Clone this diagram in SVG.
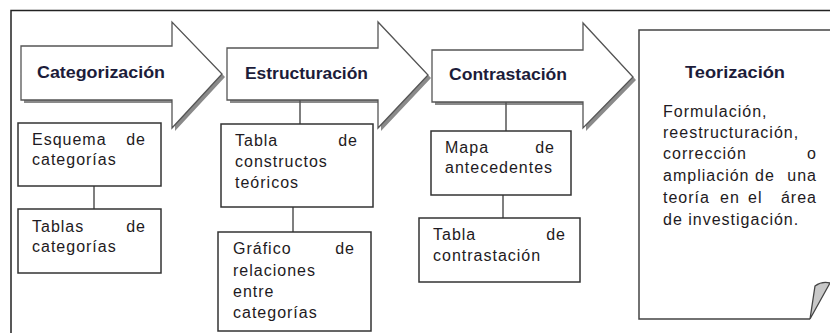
<svg xmlns="http://www.w3.org/2000/svg" width="830" height="333" viewBox="0 0 830 333">
<style>
.frame{fill:none;stroke:#222;stroke-width:1.5}
.arrow{fill:#fff;stroke:#555;stroke-width:1.3}
.shadow{fill:#8a8a8a}
.box{fill:#fff;stroke:#333;stroke-width:1.5}
.conn{stroke:#555;stroke-width:1.5;fill:none}
.lbl{font-family:"Liberation Sans",Arial,sans-serif;font-weight:bold;font-size:16px;fill:#1c1c3a}
.t{font-family:"Liberation Sans",Arial,sans-serif;font-size:16px;fill:#1e1a22;letter-spacing:1px}
.e{text-anchor:end}
</style>
<rect x="0" y="0" width="830" height="333" fill="#fff"/>
<path class="frame" d="M11,333 V10.5 H830"/>

<g id="categorizacion">
<polygon class="shadow" points="24,49 175,49 175,25 225,77 175,131 175,103 24,103"/>
<polygon class="arrow" points="21,46 172,46 172,22 222,74 172,128 172,100 21,100"/>
<text class="lbl" x="37" y="78" textLength="128" lengthAdjust="spacingAndGlyphs">Categorización</text>
</g>

<g id="estructuracion">
<polygon class="shadow" points="230,51 381,51 381,25 431,78 381,131 381,103 230,103"/>
<polygon class="arrow" points="227,48 378,48 378,22 428,75 378,128 378,100 227,100"/>
<text class="lbl" x="245" y="79" textLength="123" lengthAdjust="spacingAndGlyphs">Estructuración</text>
</g>

<g id="contrastacion">
<polygon class="shadow" points="435,53 586,53 586,26 636,80 586,131 586,105 435,105"/>
<polygon class="arrow" points="432,50 583,50 583,23 633,77 583,128 583,102 432,102"/>
<text class="lbl" x="449" y="80" textLength="118" lengthAdjust="spacingAndGlyphs">Contrastación</text>
</g>

<g id="connectors">
<line class="conn" x1="94" y1="186" x2="94" y2="209"/>
<line class="conn" x1="300" y1="100" x2="300" y2="124"/>
<line class="conn" x1="293" y1="207" x2="293" y2="232"/>
<line class="conn" x1="506" y1="102" x2="506" y2="131"/>
<line class="conn" x1="503" y1="195" x2="503" y2="218"/>
</g>

<g id="esquema">
<rect class="box" x="18" y="123" width="143" height="63"/>
<text class="t" x="32" y="145">Esquema</text>
<text class="t e" x="146" y="145">de</text>
<text class="t" x="32" y="165">categorías</text>
</g>

<g id="tablas">
<rect class="box" x="18" y="209" width="143" height="64"/>
<text class="t" x="32" y="232">Tablas</text>
<text class="t e" x="146" y="232">de</text>
<text class="t" x="32" y="252">categorías</text>
</g>

<g id="tabla-constructos">
<rect class="box" x="221" y="124" width="152" height="83"/>
<text class="t" x="235" y="146">Tabla</text>
<text class="t e" x="358" y="146">de</text>
<text class="t" x="235" y="167">constructos</text>
<text class="t" x="235" y="188">teóricos</text>
</g>

<g id="grafico">
<rect class="box" x="218" y="232" width="153" height="99"/>
<text class="t" x="233" y="254">Gráfico</text>
<text class="t e" x="355" y="254">de</text>
<text class="t" x="233" y="276">relaciones</text>
<text class="t" x="233" y="297">entre</text>
<text class="t" x="233" y="318">categorías</text>
</g>

<g id="mapa">
<rect class="box" x="431" y="131" width="140" height="64"/>
<text class="t" x="445" y="153">Mapa</text>
<text class="t e" x="555" y="153">de</text>
<text class="t" x="445" y="173">antecedentes</text>
</g>

<g id="tabla-contrastacion">
<rect class="box" x="419" y="218" width="161" height="64"/>
<text class="t" x="433" y="240">Tabla</text>
<text class="t e" x="566" y="240">de</text>
<text class="t" x="433" y="261">contrastación</text>
</g>

<g id="teorizacion">
<path d="M639,30 H832 V282 L830,283 Q822,281 815,286 L810,319 H639 Z" fill="#fff" stroke="none"/>
<path d="M832,30 H639 V319 H810" fill="none" stroke="#444" stroke-width="1.5"/>
<path d="M810,319 L815,286 Q822,281 830,283 Z" fill="#c8c8c8" stroke="#444" stroke-width="1.3"/>
<text class="lbl" x="685" y="78" textLength="100" lengthAdjust="spacingAndGlyphs">Teorización</text>
<text class="t" x="663" y="117">Formulación,</text>
<text class="t" x="663" y="138">reestructuración,</text>
<text class="t" x="663" y="159">corrección</text>
<text class="t e" x="817" y="159">o</text>
<text class="t" x="663" y="181">ampliación</text>
<text class="t" x="755" y="181">de</text>
<text class="t e" x="817" y="181">una</text>
<text class="t" x="663" y="203">teoría</text>
<text class="t" x="720" y="203">en</text>
<text class="t" x="748" y="203">el</text>
<text class="t e" x="817" y="203">área</text>
<text class="t" x="663" y="225">de investigación.</text>
</g>
</svg>
